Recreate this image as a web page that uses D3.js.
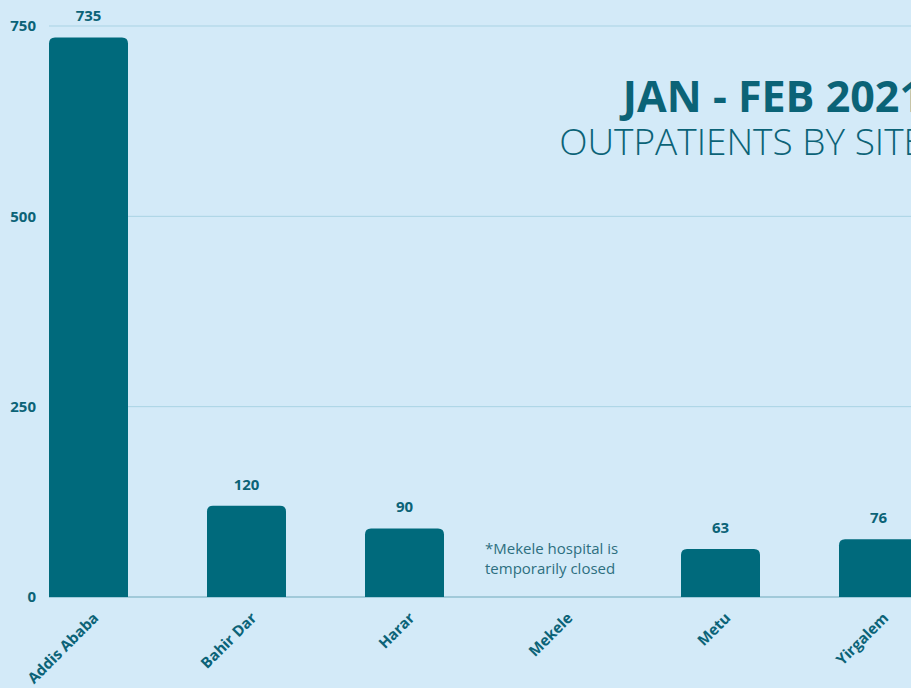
<!DOCTYPE html>
<head>
  <meta charset="utf-8">
  <script src="https://d3js.org/d3.v7.min.js"></script>
  <style>
    body { margin: 0; background: #d3eaf8; }
    text { font-family: "Open Sans", sans-serif; }
  </style>
</head>
<body>
  <script>
    var sites = ["Addis Ababa", "Bahir Dar", "Harar", "Mekele", "Metu", "Yirgalem"];
    var outpatients = [735, 120, 90, null, 63, 76];
    var yTicks = [0, 250, 500, 750];

    var width = 911, height = 688;
    var ink = "#0b6377", barColor = "#006a7c";

    var svg = d3.select("body").append("svg")
      .attr("width", width).attr("height", height);

    var x = d3.scaleBand().domain(sites).range([49, 918])
      .paddingInner(0.5).paddingOuter(0);
    var y = d3.scaleLinear().domain([0, 750]).range([597, 26]);

    // gridlines
    svg.append("g").selectAll("line").data(yTicks).enter().append("line")
      .attr("x1", 49).attr("x2", width)
      .attr("y1", d => y(d)).attr("y2", d => y(d))
      .attr("stroke", d => d === 0 ? "#6fa9bb" : "#a9d3e4")
      .attr("stroke-width", 1);

    svg.append("g").selectAll("text").data(yTicks).enter().append("text")
      .attr("x", 36).attr("y", d => y(d)).attr("dy", "0.35em")
      .attr("text-anchor", "end").attr("font-size", 15).attr("font-weight", 700)
      .attr("fill", ink).text(d => d);

    // bars with rounded tops
    var r = 6;
    var data = sites.map((s, i) => ({ site: s, v: outpatients[i] })).filter(d => d.v != null);
    svg.append("g").selectAll("path").data(data).enter().append("path")
      .attr("fill", barColor)
      .attr("d", d => {
        var x0 = x(d.site), w = x.bandwidth(), t = y(d.v), b = y(0);
        return "M" + x0 + "," + b + "V" + (t + r) + "Q" + x0 + "," + t + " " + (x0 + r) + "," + t +
          "H" + (x0 + w - r) + "Q" + (x0 + w) + "," + t + " " + (x0 + w) + "," + (t + r) + "V" + b + "Z";
      });

    svg.append("g").selectAll("text").data(data).enter().append("text")
      .attr("x", d => x(d.site) + x.bandwidth() / 2).attr("y", d => y(d.v) - 16)
      .attr("text-anchor", "middle").attr("font-size", 15).attr("font-weight", 700)
      .attr("fill", ink).text(d => d.v);

    // x labels
    svg.append("g").selectAll("text").data(sites).enter().append("text")
      .attr("transform", d => "translate(" + (x(d) + x.bandwidth() / 2 + 11) + ",619) rotate(-45)")
      .attr("text-anchor", "end").attr("font-size", 15).attr("font-weight", 700)
      .attr("fill", ink).text(d => d);

    // note
    var note = svg.append("text").attr("x", 485).attr("y", 554)
      .attr("font-size", 15).attr("fill", "#2d6f80");
    note.append("tspan").attr("x", 485).text("*Mekele hospital is");
    note.append("tspan").attr("x", 485).attr("dy", 20).text("temporarily closed");

    // title
    svg.append("text").attr("x", 924).attr("y", 112).attr("text-anchor", "end")
      .attr("font-size", 43).attr("font-weight", 700).attr("fill", ink)
      .text("JAN - FEB 2021");
    svg.append("text").attr("x", 924).attr("y", 155).attr("text-anchor", "end")
      .attr("font-size", 37).attr("font-weight", 300).attr("fill", ink)
      .text("OUTPATIENTS BY SITE");
  </script>
</body>
